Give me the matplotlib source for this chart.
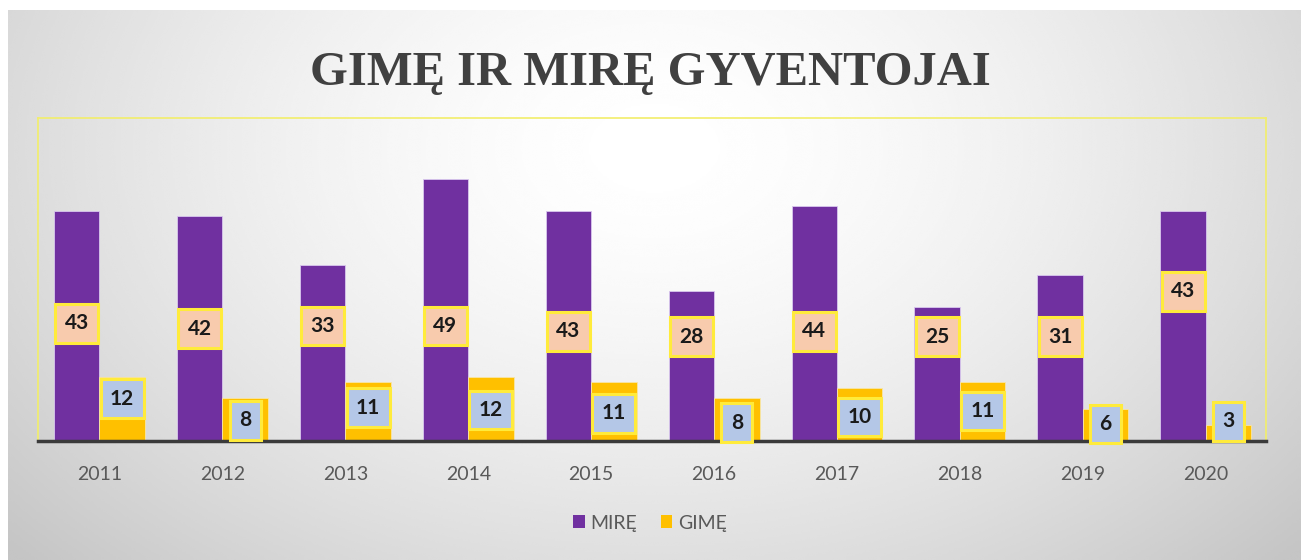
import numpy as np
import matplotlib.pyplot as plt

years = ['2011', '2012', '2013', '2014', '2015', '2016', '2017', '2018', '2019', '2020']
mire = [43, 42, 33, 49, 43, 28, 44, 25, 31, 43]
gime = [12, 8, 11, 12, 11, 8, 10, 11, 6, 3]

# label heights (data units)
mire_lbl_y = [22, 21, 21.5, 21.5, 20.5, 19.5, 20.5, 19.5, 19.5, 28]
gime_lbl_y = [7.9, 3.9, 6.2, 5.8, 5.2, 3.4, 4.5, 5.6, 3.2, 3.7]

PURPLE = '#7030A0'
ORANGE = '#FFC000'

fig = plt.figure(figsize=(13.01, 5.60), dpi=100)
fig.patch.set_facecolor('white')

# gradient background panel
bg = fig.add_axes([8 / 1301, 0, 1 - 8 / 1301, 1 - 10 / 560])
bg.set_axis_off()
yy, xx = np.mgrid[0:1:300j, 0:1:700j]
r = np.sqrt(((xx - 0.5) / 0.62) ** 2 + ((yy - 0.25) / 1.0) ** 2)
shade = np.clip(1.0 - 0.2 * r ** 1.6, 0.77, 1.0)
bg.imshow(shade, cmap='gray', vmin=0, vmax=1, aspect='auto',
          extent=[0, 1, 1, 0], interpolation='bicubic')
bg.set_xlim(0, 1)
bg.set_ylim(1, 0)

fig.text(0.5, 1 - 73 / 560, 'GIMĘ IR MIRĘ GYVENTOJAI', ha='center', va='center',
         fontsize=35, fontweight='bold', family='Liberation Serif', color='#404040')

ax = fig.add_axes([38 / 1301, 1 - 441 / 560, (1266 - 38) / 1301, (441 - 118) / 560])
ax.patch.set_alpha(0)
x = np.arange(len(years))
w = 0.37
ax.bar(x - w / 2, mire, w, color=PURPLE, edgecolor='#d9c8ee', linewidth=0.6, label='MIRĘ', zorder=2)
ax.bar(x + w / 2, gime, w, color=ORANGE, edgecolor='#f7e6a8', linewidth=0.6, label='GIMĘ', zorder=2)

for i in range(len(years)):
    ax.text(x[i] - w / 2, mire_lbl_y[i], str(mire[i]), ha='center', va='center',
            fontsize=15, fontweight='bold', family='Lato', color='#1a1a1a', zorder=4,
            bbox=dict(boxstyle='square,pad=0.45', facecolor='#F8CBAD', edgecolor='#FFEB3B', linewidth=2.2))
    ax.text(x[i] + w / 2, gime_lbl_y[i], str(gime[i]), ha='center', va='center',
            fontsize=15, fontweight='bold', family='Lato', color='#1a1a1a', zorder=4,
            bbox=dict(boxstyle='square,pad=0.45', facecolor='#B4C7E7', edgecolor='#FFEB3B', linewidth=2.2))

ax.set_xlim(-0.5, 9.49)
ax.set_ylim(0, 60.4)
ax.set_yticks([])
ax.set_xticks(x)
ax.set_xticklabels(years, fontsize=14, color='#595959', family='Lato')
ax.tick_params(axis='x', length=0, pad=18)
for side in ['top', 'left', 'right']:
    ax.spines[side].set_color('#f2ee6a')
    ax.spines[side].set_linewidth(1.2)
ax.spines['bottom'].set_color('#3a3a3a')
ax.spines['bottom'].set_linewidth(2.5)
ax.spines['bottom'].set_zorder(3)

leg = fig.legend(loc='center', bbox_to_anchor=(650 / 1301, 1 - 523 / 560), ncol=2,
                 frameon=False, handlelength=0.6, handleheight=0.6,
                 handletextpad=0.3, columnspacing=1.2, prop={'family': 'Lato', 'size': 14})
for t in leg.get_texts():
    t.set_color('#595959')
for h in leg.legend_handles:
    h.set_edgecolor('none')

fig.savefig('out.png', dpi=100)
